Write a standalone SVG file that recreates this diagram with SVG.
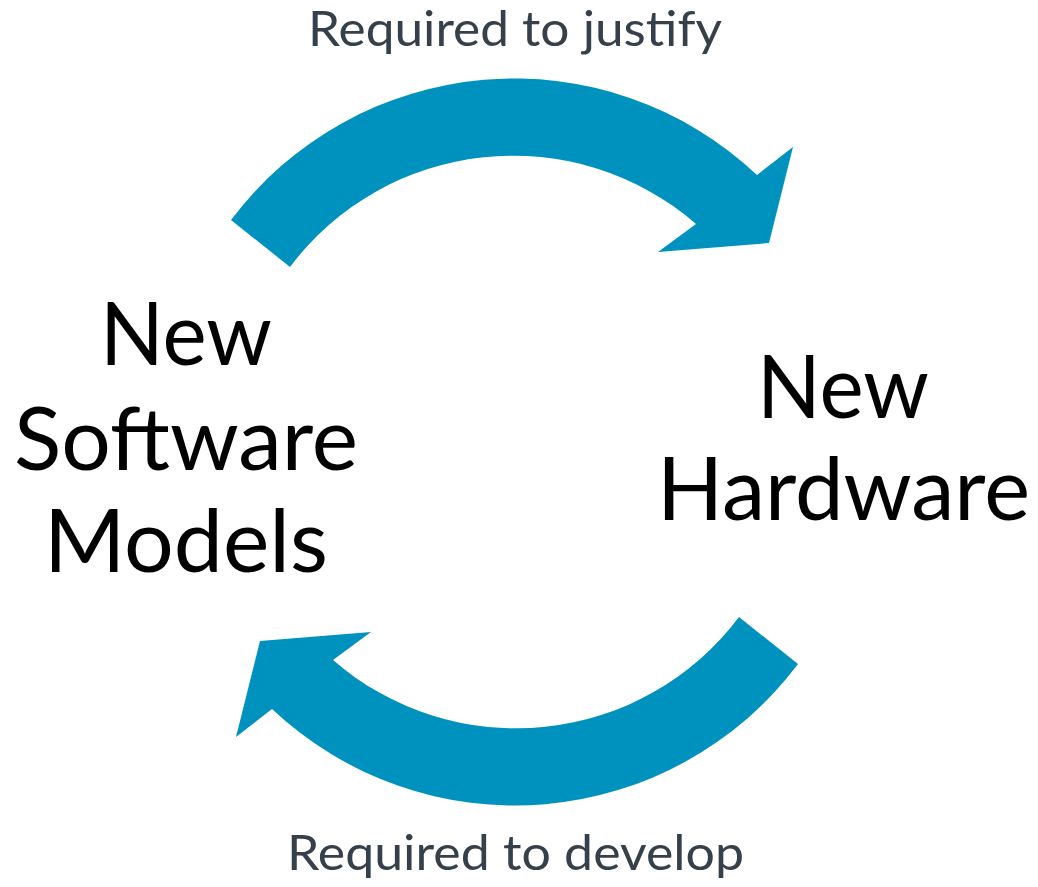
<svg xmlns="http://www.w3.org/2000/svg" width="1038" height="887" viewBox="0 0 1038 887">
<style>
.arrow{fill:#0092bf}
.node{font-family:Lato,"Open Sans","Liberation Sans",sans-serif;font-size:88px;fill:#000;text-anchor:middle}
.lbl{font-family:Lato,"Open Sans","Liberation Sans",sans-serif;font-size:48px;fill:#36404a;text-anchor:middle}
</style>
<rect width="1038" height="887" fill="#fff"/>
<g id="connectors">
<path id="arrow-top" class="arrow" d="M231 220 A354 354 0 0 1 757 175 L793 147 L769 243 L658 252 L696 224 A279 279 0 0 0 290 267 Z"/>
<path id="arrow-bottom" class="arrow" d="M231 220 A354 354 0 0 1 757 175 L793 147 L769 243 L658 252 L696 224 A279 279 0 0 0 290 267 Z" transform="rotate(180 514.5 442)"/>
<text class="lbl" x="515" y="46" font-size="46" textLength="414" lengthAdjust="spacingAndGlyphs">Required to justify</text>
<text class="lbl" x="515.5" y="870" textLength="457" lengthAdjust="spacingAndGlyphs">Required to develop</text>
</g>
<g id="node-software">
<text class="node" x="186" y="365" textLength="172" lengthAdjust="spacingAndGlyphs">New</text>
<text class="node" x="186" y="470" textLength="344" lengthAdjust="spacingAndGlyphs">Software</text>
<text class="node" x="186" y="572" textLength="284" lengthAdjust="spacingAndGlyphs">Models</text>
</g>
<g id="node-hardware">
<text class="node" x="843" y="418" textLength="172" lengthAdjust="spacingAndGlyphs">New</text>
<text class="node" x="843.5" y="520" textLength="373" lengthAdjust="spacingAndGlyphs">Hardware</text>
</g>
</svg>
